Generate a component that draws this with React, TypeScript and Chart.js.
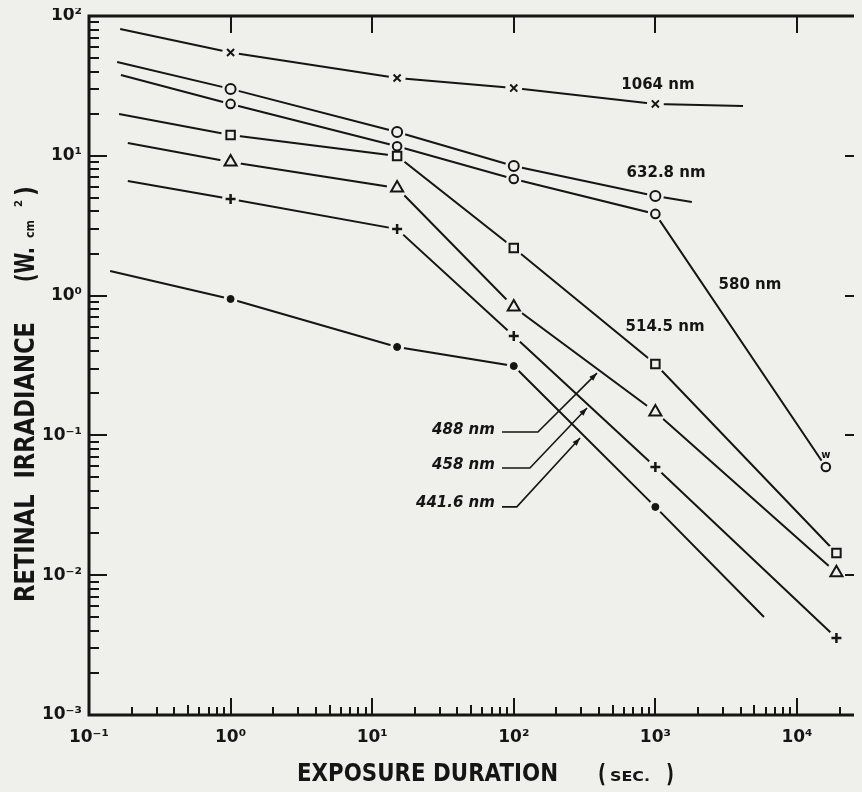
import React, { useEffect, useRef } from 'react';
import { Chart, registerables } from 'chart.js';

Chart.register(...registerables);

const INK = '#151515';
const PAPER = '#efefec';
const FONT = '"DejaVu Sans", "Liberation Sans", sans-serif';

// ---- axes ----
const xDecades = [0.1, 1, 10, 100, 1000, 10000];
const xTickLabels = ['10⁻¹', '10⁰', '10¹', '10²', '10³', '10⁴'];
const yDecades = [0.001, 0.01, 0.1, 1, 10, 100];
const yTickLabels = ['10⁻³', '10⁻²', '10⁻¹', '10⁰', '10¹', '10²'];
const xMin = 0.1;
const xMax = 28800;
const yMin = 0.001;
const yMax = 100;

// ---- series (exposure duration s, retinal irradiance W/cm², marker shown) ----
const t1064 = [0.166, 1, 15, 100, 1000, 4160];
const e1064 = [80.8, 54.8, 36.0, 30.5, 23.5, 22.7];
const m1064 = [false, true, true, true, true, false];

const t6328 = [0.158, 1, 15, 100, 1000, 1810];
const e6328 = [46.9, 30.1, 14.8, 8.45, 5.16, 4.68];
const m6328 = [false, true, true, true, true, false];

const t580 = [0.168, 1, 15, 100, 1000, 16000];
const e580 = [37.8, 23.5, 11.7, 6.82, 3.84, 0.0594];
const m580 = [false, true, true, true, true, true];

const t5145 = [0.163, 1, 15, 100, 1000, 19000];
const e5145 = [19.9, 14.1, 9.97, 2.19, 0.324, 0.0144];
const m5145 = [false, true, true, true, true, true];

const t488 = [0.188, 1, 15, 100, 1000, 19000];
const e488 = [12.35, 9.03, 5.89, 0.829, 0.147, 0.0104];
const m488 = [false, true, true, true, true, true];

const t458 = [0.188, 1, 15, 100, 1000, 19000];
const e458 = [6.6, 4.91, 2.99, 0.514, 0.0594, 0.00356];
const m458 = [false, true, true, true, true, true];

const t4416 = [0.141, 1, 15, 100, 1000, 5850];
const e4416 = [1.5, 0.946, 0.429, 0.3135, 0.0308, 0.00502];
const m4416 = [false, true, true, true, true, false];

// ---- annotations (data coordinates) ----
const waveLabels = ['1064 nm', '632.8 nm', '580 nm', '514.5 nm'];
const waveLabelX = [1042, 1190, 4660, 1170];
const waveLabelY = [32.1, 7.53, 1.19, 0.596];
const pointerLabels = ['488 nm', '458 nm', '441.6 nm'];
const pointerLabelX = 73.6;
const pointerLabelY = [0.109, 0.0614, 0.0328];
const pointerPathX = [
  [82.6, 148, 387],
  [82.6, 130, 329],
  [82.6, 105, 294],
];
const pointerPathY = [
  [0.1057, 0.1057, 0.279],
  [0.0585, 0.0585, 0.157],
  [0.0308, 0.0308, 0.0957],
];
const wMarkX = 16000;
const wMarkY = 0.0724;

type Series = {
  label: string;
  t: number[];
  e: number[];
  m: boolean[];
  style: string;
  r: number;
  filled: boolean;
  bw: number;
};

const series: Series[] = [
  { label: '1064 nm', t: t1064, e: e1064, m: m1064, style: 'crossRot', r: 5, filled: false, bw: 2 },
  { label: '632.8 nm', t: t6328, e: e6328, m: m6328, style: 'circle', r: 5, filled: false, bw: 2 },
  { label: '580 nm', t: t580, e: e580, m: m580, style: 'circle', r: 4.3, filled: false, bw: 2 },
  { label: '514.5 nm', t: t5145, e: e5145, m: m5145, style: 'rect', r: 6, filled: false, bw: 2 },
  { label: '488 nm', t: t488, e: e488, m: m488, style: 'triangle', r: 7, filled: false, bw: 2 },
  { label: '458 nm', t: t458, e: e458, m: m458, style: 'cross', r: 5, filled: false, bw: 2.5 },
  { label: '441.6 nm', t: t4416, e: e4416, m: m4416, style: 'circle', r: 3.5, filled: true, bw: 1 },
];

function buildDatasets() {
  const ds: any[] = [];
  series.forEach((s) => {
    const pts = s.t.map((t, i) => ({ x: t, y: s.e[i] }));
    const marked = pts.filter((_, i) => s.m[i]);
    ds.push({
      label: s.label,
      data: pts,
      showLine: true,
      borderColor: INK,
      borderWidth: 2,
      pointRadius: 0,
      tension: 0,
      order: 3,
    });
    ds.push({
      label: s.label + ' gap',
      data: marked,
      showLine: false,
      pointStyle: 'circle',
      pointRadius: s.r + 3.5,
      pointBackgroundColor: PAPER,
      pointBorderColor: PAPER,
      pointBorderWidth: 0,
      order: 2,
    });
    ds.push({
      label: s.label + ' marker',
      data: marked,
      showLine: false,
      pointStyle: s.style,
      pointRadius: s.r,
      pointBackgroundColor: s.filled ? INK : PAPER,
      pointBorderColor: INK,
      pointBorderWidth: s.bw,
      order: 1,
    });
  });
  return ds;
}

function labelFor(v: number, decades: number[], labels: string[]) {
  const i = decades.findIndex((d) => Math.abs(Math.log10(d) - Math.log10(v)) < 1e-6);
  return i >= 0 ? labels[i] : '';
}

function fitText(ctx: CanvasRenderingContext2D, text: string, x: number, y: number, width: number, font: string) {
  ctx.font = font;
  const w = ctx.measureText(text).width;
  ctx.save();
  ctx.translate(x, y);
  ctx.scale(width / w, 1);
  ctx.textAlign = 'left';
  ctx.textBaseline = 'alphabetic';
  ctx.fillText(text, 0, 0);
  ctx.restore();
}

const paperPlugin = {
  id: 'paper',
  beforeDraw(chart: any) {
    const { ctx, width, height } = chart;
    ctx.save();
    ctx.fillStyle = PAPER;
    ctx.fillRect(0, 0, width, height);
    ctx.restore();
  },
};

const framePlugin = {
  id: 'frame',
  afterDatasetsDraw(chart: any) {
    const { ctx, chartArea, scales } = chart;
    const { left, right, top, bottom } = chartArea;
    const x = scales.x;
    const y = scales.y;
    ctx.save();
    ctx.strokeStyle = INK;
    ctx.lineCap = 'butt';
    // ticks
    ctx.lineWidth = 2;
    ctx.beginPath();
    xDecades.forEach((d) => {
      for (let k = 1; k <= 9; k++) {
        const v = k * d;
        if (v > xMax) break;
        const px = Math.round(x.getPixelForValue(v));
        const len = k === 1 ? 17 : k === 5 ? 10 : 8;
        ctx.moveTo(px, bottom);
        ctx.lineTo(px, bottom - len);
        if (k === 1 && v > xMin) {
          ctx.moveTo(px, top);
          ctx.lineTo(px, top + 17);
        }
      }
    });
    yDecades.forEach((d) => {
      for (let k = 1; k <= 9; k++) {
        const v = k * d;
        if (v > yMax) break;
        const py = Math.round(y.getPixelForValue(v));
        const len = k === 1 ? 18 : 10;
        ctx.moveTo(left, py);
        ctx.lineTo(left + len, py);
        if (k === 1 && v > yMin && v < yMax) {
          ctx.moveTo(right - 17, py);
          ctx.lineTo(right, py);
        }
      }
    });
    ctx.stroke();
    // frame lines
    ctx.lineWidth = 3;
    ctx.beginPath();
    ctx.moveTo(left, top);
    ctx.lineTo(right, top);
    ctx.moveTo(left, top - 1.5);
    ctx.lineTo(left, bottom + 1.5);
    ctx.moveTo(left, bottom);
    ctx.lineTo(right, bottom);
    ctx.stroke();
    ctx.restore();
  },
};

const notesPlugin = {
  id: 'notes',
  afterDraw(chart: any) {
    const { ctx, scales } = chart;
    const x = scales.x;
    const y = scales.y;
    const px = (v: number) => x.getPixelForValue(v);
    const py = (v: number) => y.getPixelForValue(v);
    ctx.save();
    ctx.fillStyle = INK;
    ctx.strokeStyle = INK;
    // wavelength labels
    ctx.font = `bold 15px ${FONT}`;
    ctx.textAlign = 'center';
    ctx.textBaseline = 'middle';
    waveLabels.forEach((t, i) => ctx.fillText(t, px(waveLabelX[i]), py(waveLabelY[i])));
    // pointer labels
    ctx.font = `italic bold 15px ${FONT}`;
    ctx.textAlign = 'right';
    pointerLabels.forEach((t, i) => ctx.fillText(t, px(pointerLabelX), py(pointerLabelY[i])));
    // pointer arrows
    ctx.lineWidth = 1.6;
    pointerPathX.forEach((xs, i) => {
      const ys = pointerPathY[i];
      const pts = xs.map((v, j) => [px(v), py(ys[j])]);
      ctx.beginPath();
      pts.forEach(([a, b], j) => (j === 0 ? ctx.moveTo(a, b) : ctx.lineTo(a, b)));
      ctx.stroke();
      const [x1, y1] = pts[pts.length - 2];
      const [x2, y2] = pts[pts.length - 1];
      const ang = Math.atan2(y2 - y1, x2 - x1);
      ctx.beginPath();
      ctx.moveTo(x2, y2);
      ctx.lineTo(x2 - 8 * Math.cos(ang) + 2.8 * Math.sin(ang), y2 - 8 * Math.sin(ang) - 2.8 * Math.cos(ang));
      ctx.lineTo(x2 - 8 * Math.cos(ang) - 2.8 * Math.sin(ang), y2 - 8 * Math.sin(ang) + 2.8 * Math.cos(ang));
      ctx.closePath();
      ctx.fill();
    });
    // small 'w' mark
    ctx.font = `bold 10px ${FONT}`;
    ctx.textAlign = 'center';
    ctx.fillText('w', px(wMarkX), py(wMarkY));

    // x axis title
    fitText(ctx, 'EXPOSURE DURATION', 289, 773, 261, `bold 25px ${FONT}`);
    fitText(ctx, '(', 590, 774, 8, `bold 25px ${FONT}`);
    fitText(ctx, 'SEC.', 602, 773, 40, `bold 14px ${FONT}`);
    fitText(ctx, ')', 658, 774, 8, `bold 25px ${FONT}`);

    // y axis title (rotated)
    ctx.save();
    ctx.translate(26, 594);
    ctx.rotate(-Math.PI / 2);
    fitText(ctx, 'RETINAL  IRRADIANCE', 0, 0, 280, `bold 27px ${FONT}`);
    fitText(ctx, '(W.', 320, 0, 35, `bold 27px ${FONT}`);
    fitText(ctx, 'cm', 364, 0, 18, `bold 12px ${FONT}`);
    fitText(ctx, '2', 395, -12, 7, `bold 11px ${FONT}`);
    fitText(ctx, ')', 406, 0, 10, `bold 27px ${FONT}`);
    ctx.restore();

    ctx.restore();
  },
};

export default function App() {
  const ref = useRef<HTMLCanvasElement>(null);
  useEffect(() => {
    document.body.style.background = PAPER;
    const tickFont = { family: FONT, size: 17, weight: 'bold' as const };
    const chart = new Chart(ref.current as HTMLCanvasElement, {
      type: 'scatter',
      data: { datasets: buildDatasets() },
      options: {
        responsive: false,
        animation: false,
        events: [],
        layout: { autoPadding: false, padding: { top: 8, right: 0, left: 0, bottom: 0 } },
        plugins: {
          legend: { display: false },
          tooltip: { enabled: false },
          title: { display: false },
        },
        scales: {
          x: {
            type: 'logarithmic',
            position: 'bottom',
            min: xMin,
            max: xMax,
            grid: { display: false, drawTicks: false },
            border: { display: false },
            ticks: {
              autoSkip: false,
              maxRotation: 0,
              padding: 12,
              color: INK,
              font: tickFont,
              callback: (v: any) => labelFor(Number(v), xDecades, xTickLabels),
            },
            afterBuildTicks: (s: any) => {
              s.ticks = xDecades.map((v) => ({ value: v }));
            },
            afterFit: (s: any) => {
              s.height = 77;
              s.paddingLeft = 0;
              s.paddingRight = 0;
            },
          },
          y: {
            type: 'logarithmic',
            position: 'left',
            min: yMin,
            max: yMax,
            grid: { display: false, drawTicks: false },
            border: { display: false },
            ticks: {
              autoSkip: false,
              padding: 7,
              color: INK,
              font: tickFont,
              callback: (v: any) => labelFor(Number(v), yDecades, yTickLabels),
            },
            afterBuildTicks: (s: any) => {
              s.ticks = yDecades.map((v) => ({ value: v }));
            },
            afterFit: (s: any) => {
              s.width = 81;
              s.paddingTop = 0;
              s.paddingBottom = 0;
            },
          },
        },
      } as any,
      plugins: [paperPlugin, framePlugin, notesPlugin],
    });
    return () => chart.destroy();
  }, []);
  return (
    <div style={{ width: 854, height: 784 }}>
      <canvas ref={ref} width={854} height={784} style={{ display: 'block' }} />
    </div>
  );
}
